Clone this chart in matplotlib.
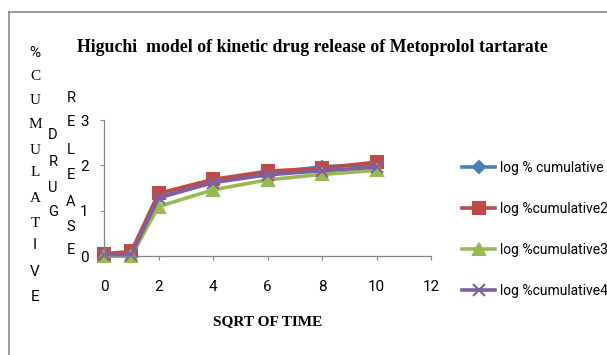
import matplotlib
matplotlib.use("Agg")
import matplotlib.pyplot as plt
from matplotlib.lines import Line2D

# Dados
sqrt_time = [0, 1, 2, 4, 6, 8, 10]
log_cum1 = [0.00, 0.00, 1.30, 1.62, 1.82, 1.97, 2.02]
log_cum2 = [0.05, 0.10, 1.38, 1.69, 1.87, 1.94, 2.07]
log_cum3 = [0.00, 0.00, 1.09, 1.46, 1.68, 1.80, 1.89]
log_cum4 = [0.02, 0.02, 1.28, 1.62, 1.79, 1.88, 1.96]
labels = ["log % cumulative", "log %cumulative2", "log %cumulative3", "log %cumulative4"]

SANS = "Roboto"

W, H = 607, 355
fig = plt.figure(figsize=(W / 100, H / 100), dpi=100)
ax = fig.add_axes([104 / W, 1 - 256 / H, 327 / W, 136 / H])

series = [
    (log_cum1, "#4A7EBB", "D", 6),
    (log_cum2, "#BE4B48", "s", 8),
    (log_cum3, "#98B954", "^", 8),
    (log_cum4, "#7D60A0", "x", 8),
]
handles = []
for (vals, cor, mk, ms), lab in zip(series, labels):
    h, = ax.plot(sqrt_time, vals, color=cor, lw=2.6, marker=mk, ms=ms,
                 mew=1.5, label=lab, clip_on=False)
    handles.append(h)

ax.set_xlim(0, 12)
ax.set_ylim(0, 3)
ax.set_xticks(range(0, 13, 2))
ax.set_yticks(range(0, 4))
for s in ["top", "right"]:
    ax.spines[s].set_visible(False)
for s in ["left", "bottom"]:
    ax.spines[s].set_color("#868686")
    ax.spines[s].set_linewidth(0.9)
ax.tick_params(axis="both", colors="#868686", length=3, direction="out",
               labelcolor="black", labelsize=11)
ax.tick_params(axis="x", pad=14)
ax.tick_params(axis="y", pad=8)
for t in ax.get_xticklabels() + ax.get_yticklabels():
    t.set_family(SANS)

# Título e rótulo do eixo x
fig.text(312 / W, 1 - 47 / H, "Higuchi  model of kinetic drug release of Metoprolol tartarate",
         ha="center", va="center", family="Liberation Serif", weight="bold", fontsize=12.8)
fig.text(268 / W, 1 - 322 / H, "SQRT OF TIME", ha="center", va="center",
         family="Liberation Serif", weight="bold", fontsize=11)

# Rótulo vertical empilhado
y1 = [53, 77, 100, 125, 150, 173, 198, 223, 245, 272, 297]
for ch, yy in zip("%CUMULATIVE", y1):
    fam = "Liberation Serif" if ch in "CUMLAT" else SANS
    fig.text(35 / W, 1 - yy / H, ch, ha="center", va="center", family=fam, fontsize=11)
for ch, yy in zip("DRUG", [135, 162, 188, 212]):
    fig.text(53 / W, 1 - yy / H, ch, ha="center", va="center", family=SANS, fontsize=10.5)
for ch, yy in zip("RELEASE", [98, 122, 150, 175, 202, 227, 250]):
    fig.text(71 / W, 1 - yy / H, ch, ha="center", va="center", family=SANS, fontsize=10.5)

# Legenda
fig.legend(handles=handles, loc="upper left", bbox_to_anchor=(462 / W, 1 - 161 / H),
           frameon=False, borderpad=0, borderaxespad=0, handlelength=2.4,
           handletextpad=0.3, labelspacing=1.95, prop={"family": SANS, "size": 10})

# Moldura
fig.add_artist(Line2D([9 / W, 1], [1 - 12 / H, 1 - 12 / H], color="#8a8a8a", lw=1.2))
fig.add_artist(Line2D([9 / W, 9 / W], [0, 1 - 12 / H], color="#8a8a8a", lw=1.2))

fig.savefig("out.png", dpi=100)
